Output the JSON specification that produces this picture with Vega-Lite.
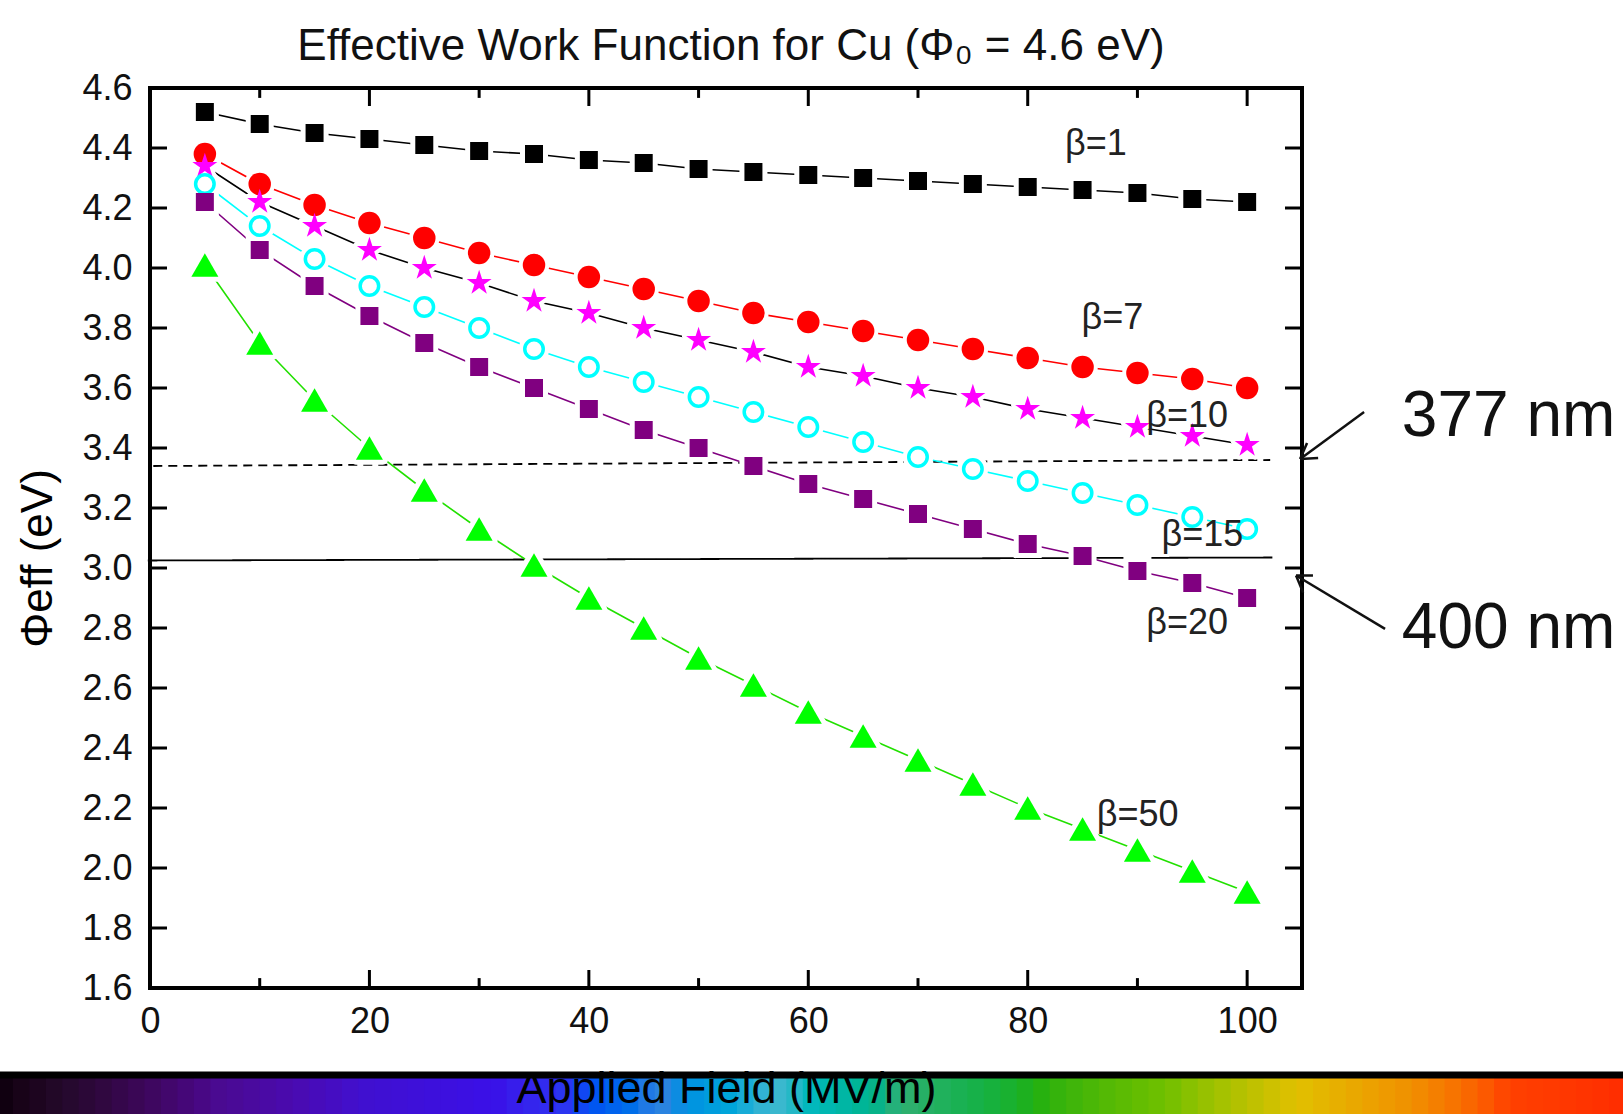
{
  "$schema": "https://vega.github.io/schema/vega-lite/v6.json",
  "autosize": "none",
  "width": 1152,
  "height": 900,
  "padding": {"left": 150, "top": 88, "right": 321, "bottom": 126},
  "background": "white",
  "view": {"stroke": "#000000", "strokeWidth": 4},
  "title": {
    "text": "Effective Work Function for Cu (Φ₀ = 4.6 eV)",
    "font": "Liberation Sans",
    "fontSize": 44,
    "fontWeight": "normal",
    "color": "#111111",
    "anchor": "middle",
    "frame": "group",
    "baseline": "alphabetic",
    "offset": 37,
    "dx": 5,
    "dy": 71
  },
  "datasets": {
    "pts": [
      {"b":1,"emv":5,"phi":4.52},{"b":1,"emv":10,"phi":4.48},{"b":1,"emv":15,"phi":4.45},{"b":1,"emv":20,"phi":4.43},{"b":1,"emv":25,"phi":4.41},{"b":1,"emv":30,"phi":4.39},{"b":1,"emv":35,"phi":4.38},{"b":1,"emv":40,"phi":4.36},{"b":1,"emv":45,"phi":4.35},{"b":1,"emv":50,"phi":4.33},{"b":1,"emv":55,"phi":4.32},{"b":1,"emv":60,"phi":4.31},{"b":1,"emv":65,"phi":4.30},{"b":1,"emv":70,"phi":4.29},{"b":1,"emv":75,"phi":4.28},{"b":1,"emv":80,"phi":4.27},{"b":1,"emv":85,"phi":4.26},{"b":1,"emv":90,"phi":4.25},{"b":1,"emv":95,"phi":4.23},{"b":1,"emv":100,"phi":4.22},
      {"b":7,"emv":5,"phi":4.38},{"b":7,"emv":10,"phi":4.28},{"b":7,"emv":15,"phi":4.21},{"b":7,"emv":20,"phi":4.15},{"b":7,"emv":25,"phi":4.10},{"b":7,"emv":30,"phi":4.05},{"b":7,"emv":35,"phi":4.01},{"b":7,"emv":40,"phi":3.97},{"b":7,"emv":45,"phi":3.93},{"b":7,"emv":50,"phi":3.89},{"b":7,"emv":55,"phi":3.85},{"b":7,"emv":60,"phi":3.82},{"b":7,"emv":65,"phi":3.79},{"b":7,"emv":70,"phi":3.76},{"b":7,"emv":75,"phi":3.73},{"b":7,"emv":80,"phi":3.70},{"b":7,"emv":85,"phi":3.67},{"b":7,"emv":90,"phi":3.65},{"b":7,"emv":95,"phi":3.63},{"b":7,"emv":100,"phi":3.60},
      {"b":10,"emv":5,"phi":4.34},{"b":10,"emv":10,"phi":4.22},{"b":10,"emv":15,"phi":4.14},{"b":10,"emv":20,"phi":4.06},{"b":10,"emv":25,"phi":4.00},{"b":10,"emv":30,"phi":3.95},{"b":10,"emv":35,"phi":3.89},{"b":10,"emv":40,"phi":3.85},{"b":10,"emv":45,"phi":3.80},{"b":10,"emv":50,"phi":3.76},{"b":10,"emv":55,"phi":3.72},{"b":10,"emv":60,"phi":3.67},{"b":10,"emv":65,"phi":3.64},{"b":10,"emv":70,"phi":3.60},{"b":10,"emv":75,"phi":3.57},{"b":10,"emv":80,"phi":3.53},{"b":10,"emv":85,"phi":3.50},{"b":10,"emv":90,"phi":3.47},{"b":10,"emv":95,"phi":3.44},{"b":10,"emv":100,"phi":3.41},
      {"b":15,"emv":5,"phi":4.28},{"b":15,"emv":10,"phi":4.14},{"b":15,"emv":15,"phi":4.03},{"b":15,"emv":20,"phi":3.94},{"b":15,"emv":25,"phi":3.87},{"b":15,"emv":30,"phi":3.80},{"b":15,"emv":35,"phi":3.73},{"b":15,"emv":40,"phi":3.67},{"b":15,"emv":45,"phi":3.62},{"b":15,"emv":50,"phi":3.57},{"b":15,"emv":55,"phi":3.52},{"b":15,"emv":60,"phi":3.47},{"b":15,"emv":65,"phi":3.42},{"b":15,"emv":70,"phi":3.37},{"b":15,"emv":75,"phi":3.33},{"b":15,"emv":80,"phi":3.29},{"b":15,"emv":85,"phi":3.25},{"b":15,"emv":90,"phi":3.21},{"b":15,"emv":95,"phi":3.17},{"b":15,"emv":100,"phi":3.13},
      {"b":20,"emv":5,"phi":4.22},{"b":20,"emv":10,"phi":4.06},{"b":20,"emv":15,"phi":3.94},{"b":20,"emv":20,"phi":3.84},{"b":20,"emv":25,"phi":3.75},{"b":20,"emv":30,"phi":3.67},{"b":20,"emv":35,"phi":3.60},{"b":20,"emv":40,"phi":3.53},{"b":20,"emv":45,"phi":3.46},{"b":20,"emv":50,"phi":3.40},{"b":20,"emv":55,"phi":3.34},{"b":20,"emv":60,"phi":3.28},{"b":20,"emv":65,"phi":3.23},{"b":20,"emv":70,"phi":3.18},{"b":20,"emv":75,"phi":3.13},{"b":20,"emv":80,"phi":3.08},{"b":20,"emv":85,"phi":3.04},{"b":20,"emv":90,"phi":2.99},{"b":20,"emv":95,"phi":2.95},{"b":20,"emv":100,"phi":2.90},
      {"b":50,"emv":5,"phi":4.01},{"b":50,"emv":10,"phi":3.75},{"b":50,"emv":15,"phi":3.56},{"b":50,"emv":20,"phi":3.40},{"b":50,"emv":25,"phi":3.26},{"b":50,"emv":30,"phi":3.13},{"b":50,"emv":35,"phi":3.01},{"b":50,"emv":40,"phi":2.90},{"b":50,"emv":45,"phi":2.80},{"b":50,"emv":50,"phi":2.70},{"b":50,"emv":55,"phi":2.61},{"b":50,"emv":60,"phi":2.52},{"b":50,"emv":65,"phi":2.44},{"b":50,"emv":70,"phi":2.36},{"b":50,"emv":75,"phi":2.28},{"b":50,"emv":80,"phi":2.20},{"b":50,"emv":85,"phi":2.13},{"b":50,"emv":90,"phi":2.06},{"b":50,"emv":95,"phi":1.99},{"b":50,"emv":100,"phi":1.92}
    ],
    "labels": [
      {"beta":"β=1","x":83.4,"y":4.377},
      {"beta":"β=7","x":84.9,"y":3.797},
      {"beta":"β=10","x":90.8,"y":3.47},
      {"beta":"β=15","x":92.2,"y":3.075},
      {"beta":"β=20","x":90.8,"y":2.78},
      {"beta":"β=50","x":86.3,"y":2.14}
    ],
    "refs": [
      {"label":"377 nm","x":0.3,"x2":102.1,"y":3.34,"y2":3.36},
      {"label":"400 nm","x":-0.2,"x2":102.3,"y":3.025,"y2":3.035}
    ],
    "notes": [
      {"label":"377 nm","x":114.1,"y":3.44},
      {"label":"400 nm","x":114.1,"y":2.733}
    ],
    "arrows": [
      {"x":110.66,"y":3.52,"x2":104.83,"y2":3.363},
      {"x":104.83,"y":3.363,"x2":105.46,"y2":3.417},
      {"x":104.83,"y":3.363,"x2":106.47,"y2":3.367},
      {"x":112.57,"y":2.797,"x2":104.46,"y2":2.975},
      {"x":104.46,"y":2.975,"x2":106.0,"y2":2.975},
      {"x":104.46,"y":2.975,"x2":105.1,"y2":2.918}
    ],
    "ticks": [
      {"x":10,"x2":10,"y":1.6,"y2":1.633},{"x":30,"x2":30,"y":1.6,"y2":1.633},{"x":50,"x2":50,"y":1.6,"y2":1.633},{"x":70,"x2":70,"y":1.6,"y2":1.633},{"x":90,"x2":90,"y":1.6,"y2":1.633},
      {"x":20,"x2":20,"y":1.6,"y2":1.66},{"x":40,"x2":40,"y":1.6,"y2":1.66},{"x":60,"x2":60,"y":1.6,"y2":1.66},{"x":80,"x2":80,"y":1.6,"y2":1.66},{"x":100,"x2":100,"y":1.6,"y2":1.66},
      {"x":10,"x2":10,"y":4.6,"y2":4.567},{"x":30,"x2":30,"y":4.6,"y2":4.567},{"x":50,"x2":50,"y":4.6,"y2":4.567},{"x":70,"x2":70,"y":4.6,"y2":4.567},{"x":90,"x2":90,"y":4.6,"y2":4.567},
      {"x":20,"x2":20,"y":4.6,"y2":4.54},{"x":40,"x2":40,"y":4.6,"y2":4.54},{"x":60,"x2":60,"y":4.6,"y2":4.54},{"x":80,"x2":80,"y":4.6,"y2":4.54},{"x":100,"x2":100,"y":4.6,"y2":4.54},
      {"x":0,"x2":1.55,"y":1.8,"y2":1.8},{"x":0,"x2":1.55,"y":2.0,"y2":2.0},{"x":0,"x2":1.55,"y":2.2,"y2":2.2},{"x":0,"x2":1.55,"y":2.4,"y2":2.4},{"x":0,"x2":1.55,"y":2.6,"y2":2.6},{"x":0,"x2":1.55,"y":2.8,"y2":2.8},{"x":0,"x2":1.55,"y":3.0,"y2":3.0},{"x":0,"x2":1.55,"y":3.2,"y2":3.2},{"x":0,"x2":1.55,"y":3.4,"y2":3.4},{"x":0,"x2":1.55,"y":3.6,"y2":3.6},{"x":0,"x2":1.55,"y":3.8,"y2":3.8},{"x":0,"x2":1.55,"y":4.0,"y2":4.0},{"x":0,"x2":1.55,"y":4.2,"y2":4.2},{"x":0,"x2":1.55,"y":4.4,"y2":4.4},
      {"x":105,"x2":103.45,"y":1.8,"y2":1.8},{"x":105,"x2":103.45,"y":2.0,"y2":2.0},{"x":105,"x2":103.45,"y":2.2,"y2":2.2},{"x":105,"x2":103.45,"y":2.4,"y2":2.4},{"x":105,"x2":103.45,"y":2.6,"y2":2.6},{"x":105,"x2":103.45,"y":2.8,"y2":2.8},{"x":105,"x2":103.45,"y":3.0,"y2":3.0},{"x":105,"x2":103.45,"y":3.2,"y2":3.2},{"x":105,"x2":103.45,"y":3.4,"y2":3.4},{"x":105,"x2":103.45,"y":3.6,"y2":3.6},{"x":105,"x2":103.45,"y":3.8,"y2":3.8},{"x":105,"x2":103.45,"y":4.0,"y2":4.0},{"x":105,"x2":103.45,"y":4.2,"y2":4.2},{"x":105,"x2":103.45,"y":4.4,"y2":4.4}
    ],
    "band": [
      {"x":-14,"x2":-12.3},{"x":-12.5,"x2":-10.8},{"x":-11,"x2":-9.3},{"x":-9.5,"x2":-7.8},{"x":-8,"x2":-6.3},{"x":-6.5,"x2":-4.8},{"x":-5,"x2":-3.3},{"x":-3.5,"x2":-1.8},{"x":-2,"x2":-0.3},{"x":-0.5,"x2":1.2},
      {"x":1,"x2":2.7},{"x":2.5,"x2":4.2},{"x":4,"x2":5.7},{"x":5.5,"x2":7.2},{"x":7,"x2":8.7},{"x":8.5,"x2":10.2},{"x":10,"x2":11.7},{"x":11.5,"x2":13.2},{"x":13,"x2":14.7},{"x":14.5,"x2":16.2},
      {"x":16,"x2":17.7},{"x":17.5,"x2":19.2},{"x":19,"x2":20.7},{"x":20.5,"x2":22.2},{"x":22,"x2":23.7},{"x":23.5,"x2":25.2},{"x":25,"x2":26.7},{"x":26.5,"x2":28.2},{"x":28,"x2":29.7},{"x":29.5,"x2":31.2},
      {"x":31,"x2":32.7},{"x":32.5,"x2":34.2},{"x":34,"x2":35.7},{"x":35.5,"x2":37.2},{"x":37,"x2":38.7},{"x":38.5,"x2":40.2},{"x":40,"x2":41.7},{"x":41.5,"x2":43.2},{"x":43,"x2":44.7},{"x":44.5,"x2":46.2},
      {"x":46,"x2":47.7},{"x":47.5,"x2":49.2},{"x":49,"x2":50.7},{"x":50.5,"x2":52.2},{"x":52,"x2":53.7},{"x":53.5,"x2":55.2},{"x":55,"x2":56.7},{"x":56.5,"x2":58.2},{"x":58,"x2":59.7},{"x":59.5,"x2":61.2},
      {"x":61,"x2":62.7},{"x":62.5,"x2":64.2},{"x":64,"x2":65.7},{"x":65.5,"x2":67.2},{"x":67,"x2":68.7},{"x":68.5,"x2":70.2},{"x":70,"x2":71.7},{"x":71.5,"x2":73.2},{"x":73,"x2":74.7},{"x":74.5,"x2":76.2},
      {"x":76,"x2":77.7},{"x":77.5,"x2":79.2},{"x":79,"x2":80.7},{"x":80.5,"x2":82.2},{"x":82,"x2":83.7},{"x":83.5,"x2":85.2},{"x":85,"x2":86.7},{"x":86.5,"x2":88.2},{"x":88,"x2":89.7},{"x":89.5,"x2":91.2},
      {"x":91,"x2":92.7},{"x":92.5,"x2":94.2},{"x":94,"x2":95.7},{"x":95.5,"x2":97.2},{"x":97,"x2":98.7},{"x":98.5,"x2":100.2},{"x":100,"x2":101.7},{"x":101.5,"x2":103.2},{"x":103,"x2":104.7},{"x":104.5,"x2":106.2},
      {"x":106,"x2":107.7},{"x":107.5,"x2":109.2},{"x":109,"x2":110.7},{"x":110.5,"x2":112.2},{"x":112,"x2":113.7},{"x":113.5,"x2":115.2},{"x":115,"x2":116.7},{"x":116.5,"x2":118.2},{"x":118,"x2":119.7},{"x":119.5,"x2":121.2},
      {"x":121,"x2":122.7},{"x":122.5,"x2":124.2},{"x":124,"x2":125.7},{"x":125.5,"x2":127.2},{"x":127,"x2":128.7},{"x":128.5,"x2":130.2},{"x":130,"x2":131.7},{"x":131.5,"x2":133.2},{"x":133,"x2":134.7},{"x":134.5,"x2":136.2}
    ],
    "bar": [{"x":-14,"x2":136,"y":1.298,"y2":1.322}]
  },
  "encoding": {
    "x": {"type": "quantitative", "scale": {"domain": [0, 105], "nice": false, "zero": false},
      "axis": {
        "values": [0, 20, 40, 60, 80, 100],
        "format": "d",
        "ticks": false,
        "domain": false,
        "grid": false,
        "labelFlush": false,
        "labelOverlap": false,
        "labelFont": "Liberation Sans",
        "labelFontSize": 36,
        "labelColor": "#111111",
        "labelPadding": 16,
        "title": "Applied Field (MV/m)",
        "titleFont": "Liberation Sans",
        "titleFontSize": 45,
        "titleFontWeight": "normal",
        "titleColor": "#000000",
        "titleBaseline": "alphabetic",
        "titleY": 114,
        "zindex": 1
      }},
    "y": {"type": "quantitative", "scale": {"domain": [1.6, 4.6], "nice": false, "zero": false},
      "axis": {
        "values": [1.6, 1.8, 2.0, 2.2, 2.4, 2.6, 2.8, 3.0, 3.2, 3.4, 3.6, 3.8, 4.0, 4.2, 4.4, 4.6],
        "format": ".1f",
        "ticks": false,
        "domain": false,
        "grid": false,
        "labelFlush": false,
        "labelOverlap": false,
        "labelFont": "Liberation Sans",
        "labelFontSize": 36,
        "labelColor": "#111111",
        "labelPadding": 18,
        "title": "Φeff (eV)",
        "titleFont": "Liberation Sans",
        "titleFontSize": 44,
        "titleFontWeight": "normal",
        "titleColor": "#000000",
        "titleBaseline": "alphabetic",
        "titleX": -99,
        "titleY": 470,
        "zindex": 1
      }}
  },
  "layer": [
    {
      "data": {"name": "band"},
      "mark": {"type": "rect", "y": {"expr": "height + 126"}, "y2": {"expr": "height + 89"}},
      "encoding": {
        "x": {"field": "x", "type": "quantitative"},
        "x2": {"field": "x2"},
        "fill": {"field": "x", "type": "quantitative", "legend": null,
          "scale": {"domain": [-14, -5.06, 5.37, 18.78, 30.7, 36.66, 45.6, 56.03, 67.95, 79.87, 91.79, 103.71, 114.14, 123.08, 135],
                    "range": ["#100010", "#300840", "#4a0a90", "#4010d0", "#3a10e8", "#3030f0", "#3080e0", "#40b8d0", "#30b070", "#20b010", "#70c000", "#e0c000", "#f09000", "#ff4000", "#ff2a00"]}}
      }
    },
    {
      "data": {"name": "bar"},
      "mark": {"type": "rect", "fill": "#000000"},
      "encoding": {
        "x": {"field": "x", "type": "quantitative"},
        "x2": {"field": "x2"},
        "y": {"field": "y", "type": "quantitative"},
        "y2": {"field": "y2"}
      }
    },
    {
      "data": {"name": "refs"},
      "mark": {"type": "rule", "stroke": "#000000", "strokeWidth": 1.8},
      "encoding": {
        "x": {"field": "x", "type": "quantitative"},
        "x2": {"field": "x2"},
        "y": {"field": "y", "type": "quantitative"},
        "y2": {"field": "y2"},
        "strokeDash": {"field": "label", "type": "nominal", "scale": {"domain": ["377 nm", "400 nm"], "range": [[9, 6], [1, 0]]}, "legend": null}
      }
    },
    {
      "data": {"name": "ticks"},
      "mark": {"type": "rule", "stroke": "#000000", "strokeWidth": 3},
      "encoding": {
        "x": {"field": "x", "type": "quantitative"},
        "x2": {"field": "x2"},
        "y": {"field": "y", "type": "quantitative"},
        "y2": {"field": "y2"}
      }
    },
    {
      "data": {"name": "arrows"},
      "mark": {"type": "rule", "stroke": "#111111", "strokeWidth": 2.5},
      "encoding": {
        "x": {"field": "x", "type": "quantitative"},
        "x2": {"field": "x2"},
        "y": {"field": "y", "type": "quantitative"},
        "y2": {"field": "y2"}
      }
    },
    {
      "data": {"name": "notes"},
      "mark": {"type": "text", "align": "left", "baseline": "alphabetic", "font": "Liberation Sans", "fontSize": 64, "color": "#111111"},
      "encoding": {
        "x": {"field": "x", "type": "quantitative"},
        "y": {"field": "y", "type": "quantitative"},
        "text": {"field": "label"}
      }
    },
    {"data": {"name": "pts"}, "transform": [{"filter": {"field": "b", "equal": 1}}], "mark": {"type": "line", "stroke": "#000000", "strokeWidth": 1.6},
      "encoding": {"x": {"field": "emv", "type": "quantitative"}, "y": {"field": "phi", "type": "quantitative"}}},
    {"data": {"name": "pts"}, "transform": [{"filter": {"field": "b", "equal": 7}}], "mark": {"type": "line", "stroke": "#ff0000", "strokeWidth": 1.6},
      "encoding": {"x": {"field": "emv", "type": "quantitative"}, "y": {"field": "phi", "type": "quantitative"}}},
    {"data": {"name": "pts"}, "transform": [{"filter": {"field": "b", "equal": 10}}], "mark": {"type": "line", "stroke": "#000000", "strokeWidth": 1.6},
      "encoding": {"x": {"field": "emv", "type": "quantitative"}, "y": {"field": "phi", "type": "quantitative"}}},
    {"data": {"name": "pts"}, "transform": [{"filter": {"field": "b", "equal": 15}}], "mark": {"type": "line", "stroke": "#00ffff", "strokeWidth": 1.6},
      "encoding": {"x": {"field": "emv", "type": "quantitative"}, "y": {"field": "phi", "type": "quantitative"}}},
    {"data": {"name": "pts"}, "transform": [{"filter": {"field": "b", "equal": 20}}], "mark": {"type": "line", "stroke": "#800080", "strokeWidth": 1.6},
      "encoding": {"x": {"field": "emv", "type": "quantitative"}, "y": {"field": "phi", "type": "quantitative"}}},
    {"data": {"name": "pts"}, "transform": [{"filter": {"field": "b", "equal": 50}}], "mark": {"type": "line", "stroke": "#22e000", "strokeWidth": 1.6},
      "encoding": {"x": {"field": "emv", "type": "quantitative"}, "y": {"field": "phi", "type": "quantitative"}}},

    {"data": {"name": "pts"}, "transform": [{"filter": {"field": "b", "equal": 1}}], "mark": {"type": "point", "shape": "square", "size": 324, "filled": true, "fill": "#ffffff", "stroke": "#ffffff", "strokeWidth": 10, "opacity": 1},
      "encoding": {"x": {"field": "emv", "type": "quantitative"}, "y": {"field": "phi", "type": "quantitative"}}},
    {"data": {"name": "pts"}, "transform": [{"filter": {"field": "b", "equal": 7}}], "mark": {"type": "point", "shape": "circle", "size": 506, "filled": true, "fill": "#ffffff", "stroke": "#ffffff", "strokeWidth": 8, "opacity": 1},
      "encoding": {"x": {"field": "emv", "type": "quantitative"}, "y": {"field": "phi", "type": "quantitative"}}},
    {"data": {"name": "pts"}, "transform": [{"filter": {"field": "b", "equal": 10}}], "mark": {"type": "point", "shape": "M0,-1L0.2245,-0.309L0.9511,-0.309L0.3633,0.118L0.5878,0.809L0,0.382L-0.5878,0.809L-0.3633,0.118L-0.9511,-0.309L-0.2245,-0.309Z", "size": 690, "filled": true, "fill": "#ffffff", "stroke": "#ffffff", "strokeWidth": 8, "strokeJoin": "round", "opacity": 1},
      "encoding": {"x": {"field": "emv", "type": "quantitative"}, "y": {"field": "phi", "type": "quantitative"}}},
    {"data": {"name": "pts"}, "transform": [{"filter": {"field": "b", "equal": 15}}], "mark": {"type": "point", "shape": "circle", "size": 342, "filled": true, "fill": "#ffffff", "stroke": "#ffffff", "strokeWidth": 12, "opacity": 1},
      "encoding": {"x": {"field": "emv", "type": "quantitative"}, "y": {"field": "phi", "type": "quantitative"}}},
    {"data": {"name": "pts"}, "transform": [{"filter": {"field": "b", "equal": 20}}], "mark": {"type": "point", "shape": "square", "size": 324, "filled": true, "fill": "#ffffff", "stroke": "#ffffff", "strokeWidth": 10, "opacity": 1},
      "encoding": {"x": {"field": "emv", "type": "quantitative"}, "y": {"field": "phi", "type": "quantitative"}}},
    {"data": {"name": "pts"}, "transform": [{"filter": {"field": "b", "equal": 50}}], "mark": {"type": "point", "shape": "triangle-up", "size": 730, "filled": true, "fill": "#ffffff", "stroke": "#ffffff", "strokeWidth": 10, "strokeJoin": "round", "opacity": 1},
      "encoding": {"x": {"field": "emv", "type": "quantitative"}, "y": {"field": "phi", "type": "quantitative"}}},

    {"data": {"name": "pts"}, "transform": [{"filter": {"field": "b", "equal": 1}}], "mark": {"type": "point", "shape": "square", "size": 324, "filled": true, "fill": "#000000", "opacity": 1},
      "encoding": {"x": {"field": "emv", "type": "quantitative"}, "y": {"field": "phi", "type": "quantitative"}}},
    {"data": {"name": "pts"}, "transform": [{"filter": {"field": "b", "equal": 7}}], "mark": {"type": "point", "shape": "circle", "size": 506, "filled": true, "fill": "#ff0000", "opacity": 1},
      "encoding": {"x": {"field": "emv", "type": "quantitative"}, "y": {"field": "phi", "type": "quantitative"}}},
    {"data": {"name": "pts"}, "transform": [{"filter": {"field": "b", "equal": 10}}], "mark": {"type": "point", "shape": "M0,-1L0.2245,-0.309L0.9511,-0.309L0.3633,0.118L0.5878,0.809L0,0.382L-0.5878,0.809L-0.3633,0.118L-0.9511,-0.309L-0.2245,-0.309Z", "size": 690, "filled": true, "fill": "#ff00ff", "opacity": 1},
      "encoding": {"x": {"field": "emv", "type": "quantitative"}, "y": {"field": "phi", "type": "quantitative"}}},
    {"data": {"name": "pts"}, "transform": [{"filter": {"field": "b", "equal": 15}}], "mark": {"type": "point", "shape": "circle", "size": 342, "filled": false, "stroke": "#00ffff", "strokeWidth": 3.5, "opacity": 1},
      "encoding": {"x": {"field": "emv", "type": "quantitative"}, "y": {"field": "phi", "type": "quantitative"}}},
    {"data": {"name": "pts"}, "transform": [{"filter": {"field": "b", "equal": 20}}], "mark": {"type": "point", "shape": "square", "size": 324, "filled": true, "fill": "#800080", "opacity": 1},
      "encoding": {"x": {"field": "emv", "type": "quantitative"}, "y": {"field": "phi", "type": "quantitative"}}},
    {"data": {"name": "pts"}, "transform": [{"filter": {"field": "b", "equal": 50}}], "mark": {"type": "point", "shape": "triangle-up", "size": 730, "filled": true, "fill": "#00ff00", "opacity": 1},
      "encoding": {"x": {"field": "emv", "type": "quantitative"}, "y": {"field": "phi", "type": "quantitative"}}},
    {
      "data": {"name": "labels"},
      "mark": {"type": "text", "align": "left", "baseline": "alphabetic", "font": "Liberation Sans", "fontSize": 36, "color": "#222222"},
      "encoding": {
        "x": {"field": "x", "type": "quantitative"},
        "y": {"field": "y", "type": "quantitative"},
        "text": {"field": "beta"}
      }
    }
  ]
}
